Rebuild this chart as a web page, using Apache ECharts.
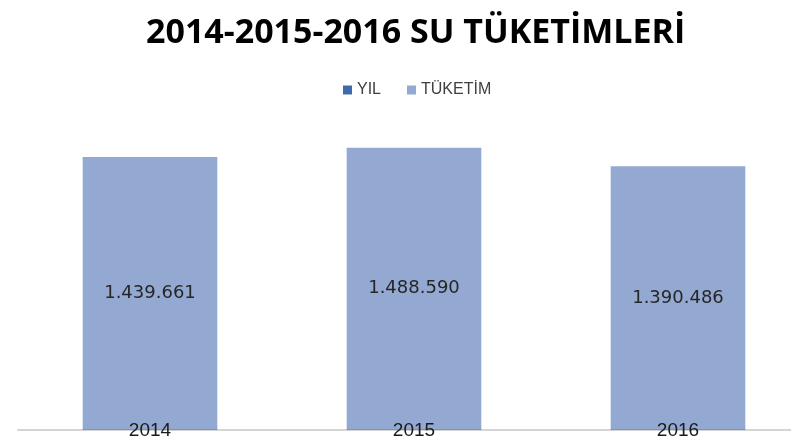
<!DOCTYPE html>
<html lang="tr">
<head>
<meta charset="utf-8" />
<title>2014-2015-2016 SU TÜKETİMLERİ</title>
<script src="https://cdn.jsdelivr.net/npm/echarts@6/dist/echarts.min.js"></script>
<style>
  html, body { margin: 0; padding: 0; background: #fff; }
  #chart { width: 791px; height: 447px; }
</style>
</head>
<body>
<div id="chart"></div>
<script>
// veriler
var years = ['2014', '2015', '2016'];
var yilValues = [2014, 2015, 2016];
var tuketimValues = [1439661, 1488590, 1390486];

function trNumber(v) {
  return String(v).replace(/\B(?=(\d{3})+(?!\d))/g, '.');
}

var chart = echarts.init(document.getElementById('chart'));

var option = {
  animation: false,
  title: {
    text: '2014-2015-2016 SU TÜKETİMLERİ',
    left: 141,
    top: 11,
    textStyle: { fontFamily: 'Open Sans', fontWeight: 'bold', fontSize: 34, color: '#000' }
  },
  legend: {
    data: ['YIL', 'TÜKETİM'],
    top: 77,
    left: 338,
    itemWidth: 9,
    itemHeight: 9,
    itemGap: 26,
    icon: 'rect',
    textStyle: { fontFamily: 'Liberation Sans', fontSize: 16, color: '#404040' }
  },
  // grid wider than the window, like the cropped original
  grid: { left: 18, width: 792, top: 127, bottom: 17, outerBoundsMode: 'none' },
  xAxis: {
    type: 'category',
    data: years,
    axisLine: { lineStyle: { color: '#d4d4d4', width: 2 } },
    axisTick: { show: false },
    axisLabel: { show: false }
  },
  yAxis: {
    type: 'value',
    min: 0,
    max: 1600000,
    show: false,
    splitLine: { show: false }
  },
  series: [
    {
      name: 'YIL',
      type: 'bar',
      stack: 'su',
      data: yilValues,
      barWidth: '51%',
      itemStyle: { color: '#3f6ca8' },
      label: {
        show: true,
        position: 'inside',
        offset: [0, 1],
        fontFamily: 'Liberation Sans',
        fontSize: 19,
        color: '#1a1a1a'
      },
      z: 3
    },
    {
      name: 'TÜKETİM',
      type: 'bar',
      stack: 'su',
      data: tuketimValues,
      itemStyle: { color: '#93a9d2' },
      label: {
        show: true,
        position: 'inside',
        fontFamily: 'DejaVu Sans',
        fontSize: 18,
        color: '#262626',
        formatter: function (p) { return trNumber(p.value); }
      }
    }
  ]
};

chart.setOption(option);
</script>
</body>
</html>
